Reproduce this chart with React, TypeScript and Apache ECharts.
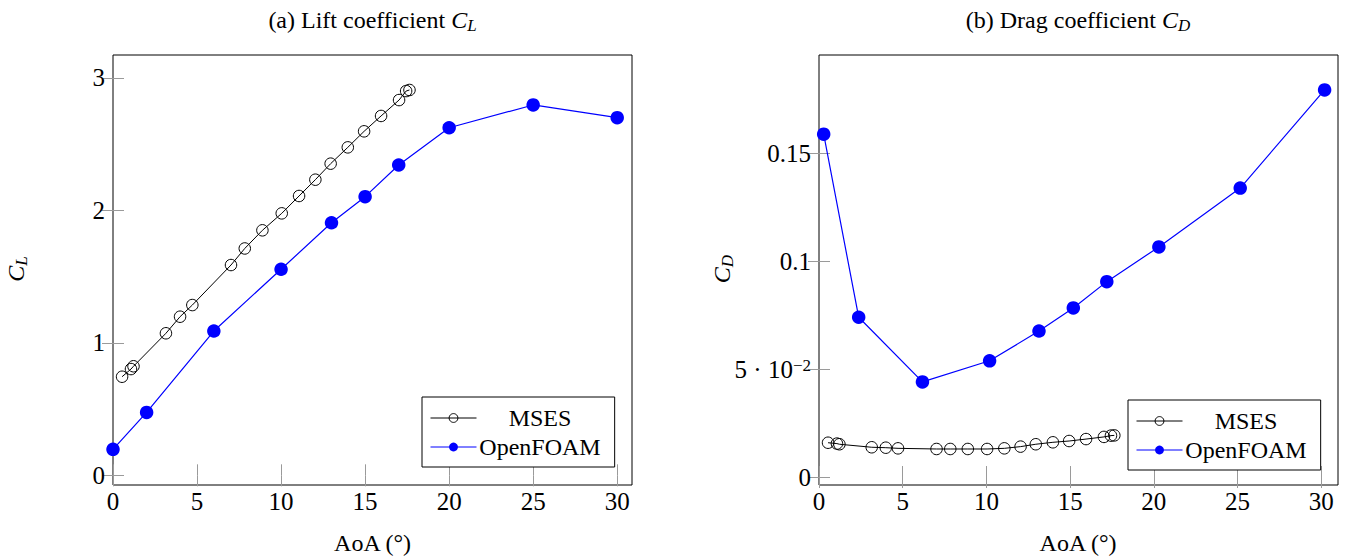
import React, { useEffect, useRef } from "react";
import * as echarts from "echarts";

// ---- data ----
const msesAoA = [0.54, 1.07, 1.22, 3.15, 3.99, 4.72, 7.02, 7.84, 8.89, 10.04, 11.07, 12.04, 12.95, 13.97, 14.94, 15.95, 17.02, 17.44, 17.64];
const msesCL = [0.744, 0.802, 0.823, 1.072, 1.197, 1.285, 1.587, 1.712, 1.849, 1.977, 2.108, 2.231, 2.352, 2.475, 2.596, 2.712, 2.832, 2.9, 2.908];
const msesCD = [0.0159, 0.0155, 0.0152, 0.0138, 0.0136, 0.0133, 0.013, 0.013, 0.013, 0.013, 0.0133, 0.0141, 0.0152, 0.0161, 0.0167, 0.0176, 0.0186, 0.0192, 0.0193];
const foamAoALift = [0, 2, 6, 10, 13, 15, 17, 20, 25, 30];
const foamCL = [0.196, 0.475, 1.089, 1.555, 1.906, 2.103, 2.342, 2.623, 2.795, 2.699];
const foamAoADrag = [0.28, 2.37, 6.18, 10.19, 13.14, 15.19, 17.19, 20.3, 25.16, 30.2];
const foamCD = [0.159, 0.0741, 0.0441, 0.0539, 0.0677, 0.0784, 0.0906, 0.1067, 0.134, 0.1795];

const aoaTicks = [0, 5, 10, 15, 20, 25, 30];
const liftTicks = [0, 1, 2, 3];
const dragTicks = [0, 0.05, 0.1, 0.15];
const seriesNames = ["MSES", "OpenFOAM"];

const FONT = "'Liberation Serif', 'Times New Roman', serif";

const zip = (xs: number[], ys: number[]) => xs.map((x, i) => [x, ys[i]]);

export default function App() {
  const ref = useRef<HTMLDivElement>(null);
  useEffect(() => {
    const chart = echarts.init(ref.current!, null, { renderer: "svg" });
    const tick = (vals: number[]) => ({
      show: true,
      inside: true,
      length: 11,
      customValues: vals,
      lineStyle: { color: "#9a9a9a", width: 1 },
    });
    const lbl = (vals: number[], margin: number, extra: any = {}) => ({
      customValues: vals,
      fontSize: 25,
      fontFamily: FONT,
      color: "#000",
      margin,
      ...extra,
    });
    const xPair = (gridIndex: number, max: number) => [
      {
        type: "value", gridIndex, min: 0, max, position: "bottom",
        axisLine: { show: false }, splitLine: { show: false },
        axisTick: tick(aoaTicks), axisLabel: lbl(aoaTicks, 4),
      },
      {
        type: "value", gridIndex, min: 0, max, position: "top",
        axisLine: { show: false }, splitLine: { show: false },
        axisTick: tick(aoaTicks), axisLabel: { show: false },
      },
    ];
    const yPair = (gridIndex: number, min: number, max: number, vals: number[], extra: any = {}) => [
      {
        type: "value", gridIndex, min, max, position: "left",
        axisLine: { show: false }, splitLine: { show: false },
        axisTick: tick(vals), axisLabel: lbl(vals, 8, extra),
      },
      {
        type: "value", gridIndex, min, max, position: "right",
        axisLine: { show: false }, splitLine: { show: false },
        axisTick: tick(vals), axisLabel: { show: false },
      },
    ];

    const msesStyle = (xi: number, yi: number, data: number[][]) => ({
      name: "MSES", type: "line", xAxisIndex: xi, yAxisIndex: yi, data,
      symbol: "circle", symbolSize: 11.5, silent: true,
      itemStyle: { color: "rgba(0,0,0,0)", borderColor: "#000", borderWidth: 1 },
      lineStyle: { color: "#000", width: 1 },
      z: 3,
    });
    const foamStyle = (xi: number, yi: number, data: number[][]) => ({
      name: "OpenFOAM", type: "line", xAxisIndex: xi, yAxisIndex: yi, data,
      symbol: "circle", symbolSize: 13.5, silent: true,
      itemStyle: { color: "#0000ff" },
      lineStyle: { color: "#0000ff", width: 1.2 },
      z: 2,
    });

    const legend = (left: number, top: number) => ({
      data: seriesNames,
      orient: "vertical",
      left, top,
      padding: [9, 14, 8, 8],
      itemGap: 5,
      itemWidth: 46,
      itemHeight: 11,
      itemTextGap: 7,
      borderColor: "#000",
      borderWidth: 1,
      borderRadius: 0,
      backgroundColor: "#fff",
      selectedMode: false,
      lineStyle: { width: 1 },
      itemStyle: { borderWidth: 1 },
      formatter: (n: string) => `{c|${n}}`,
      textStyle: {
        fontFamily: FONT, fontSize: 24, color: "#000",
        rich: { c: { width: 117, align: "center", fontFamily: FONT, fontSize: 24, color: "#000" } },
      },
    });

    const rich = {
      r: { fontFamily: FONT, fontSize: 24, color: "#000", lineHeight: 27 },
      a: { fontFamily: FONT, fontSize: 24, color: "#000", lineHeight: 22 },
      i: { fontFamily: FONT, fontSize: 24, fontStyle: "italic", color: "#000", lineHeight: 27, padding: [0, 0, 0, 6] },
      s: { fontFamily: FONT, fontSize: 17, fontStyle: "italic", color: "#000", verticalAlign: "bottom", lineHeight: 13 },
    };
    const txt = (text: string, x: number, y: number, rotation = 0) => ({
      type: "text", x, y, rotation, silent: true,
      style: { text, rich, align: "center", verticalAlign: "middle", fill: "#000", fontFamily: FONT, fontSize: 24 },
    });

    chart.setOption({
      animation: false,
      textStyle: { fontFamily: FONT },
      grid: [
        { left: 113, top: 55, width: 519, height: 430, show: true, borderColor: "#000", borderWidth: 1, backgroundColor: "transparent" },
        { left: 819, top: 55, width: 519, height: 430, show: true, borderColor: "#000", borderWidth: 1, backgroundColor: "transparent" },
      ],
      xAxis: [...xPair(0, 30.88), ...xPair(1, 31.0)],
      yAxis: [
        ...yPair(0, -0.073, 3.172, liftTicks),
        ...yPair(1, -0.0037, 0.1957, dragTicks, {
          formatter: (v: number) => (Math.abs(v - 0.05) < 1e-9 ? "5 · 10{sup|−2}" : String(v)),
          rich: {
            sup: { fontFamily: FONT, fontSize: 17, color: "#000", verticalAlign: "top", lineHeight: 12 },
          },
        }),
      ],
      legend: [legend(422, 397), legend(1128, 400)],
      series: [
        foamStyle(0, 0, zip(foamAoALift, foamCL)),
        msesStyle(0, 0, zip(msesAoA, msesCL)),
        foamStyle(2, 2, zip(foamAoADrag, foamCD)),
        msesStyle(2, 2, zip(msesAoA, msesCD)),
      ],
      graphic: [
        txt("{r|(a) Lift coefficient}{i|C}{s|L}", 372.5, 20),
        txt("{r|(b) Drag coefficient}{i|C}{s|D}", 1078, 20),
        txt("{a|AoA (°)}", 372.5, 543),
        txt("{a|AoA (°)}", 1078, 543),
        txt("{i|C}{s|L}", 16, 272, Math.PI / 2),
        txt("{i|C}{s|D}", 722, 272, Math.PI / 2),
      ],
    });
    return () => chart.dispose();
  }, []);
  return <div ref={ref} style={{ position: "absolute", left: 0, top: 0, width: 1346, height: 556 }} />;
}
